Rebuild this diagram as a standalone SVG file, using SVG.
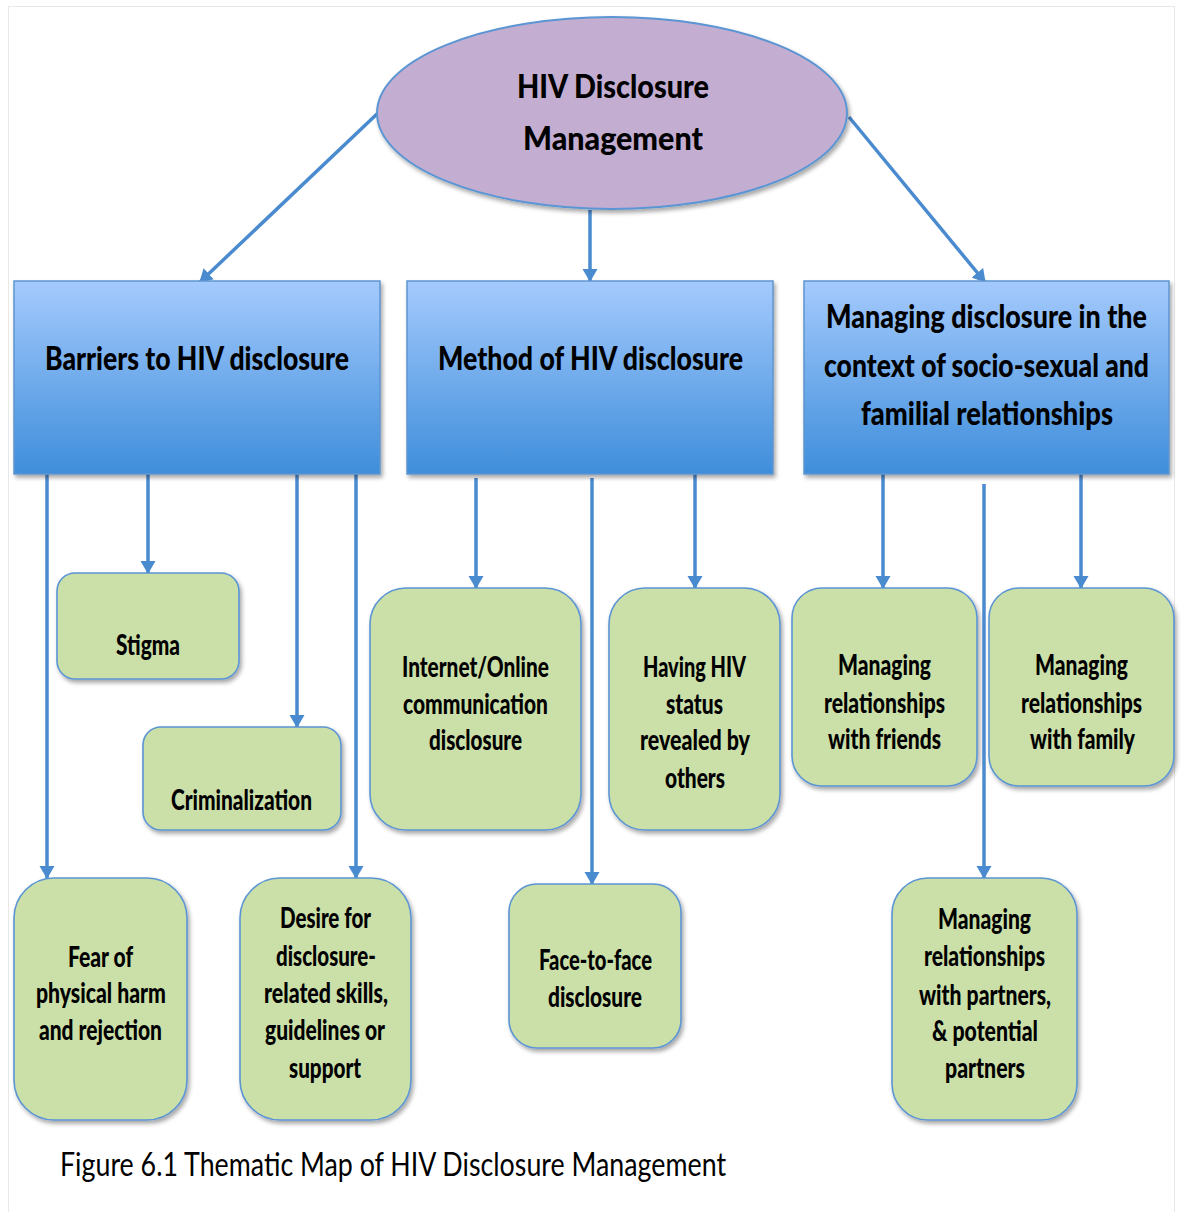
<svg xmlns="http://www.w3.org/2000/svg" width="1183" height="1212" viewBox="0 0 1183 1212">
  <defs>
    <linearGradient id="hdrFill" x1="0" y1="0" x2="0" y2="1">
      <stop offset="0" stop-color="#a4cafd"/>
      <stop offset="1" stop-color="#3f8edb"/>
    </linearGradient>
    <filter id="shadow" x="-10%" y="-10%" width="125%" height="130%">
      <feDropShadow dx="2" dy="3" stdDeviation="2" flood-color="#000" flood-opacity="0.35"/>
    </filter>
    <marker id="arrow" markerUnits="userSpaceOnUse" markerWidth="16" markerHeight="16" refX="12" refY="7.5" orient="auto">
      <path d="M0,0 L13,7.5 L0,15 Z" fill="#4a8bd0"/>
    </marker>
    <style>
      .hdr { fill: url(#hdrFill); stroke: #5f95cf; stroke-width: 1.5; filter: url(#shadow); }
      .leaf { fill: #cbdfa8; stroke: #5b95d3; stroke-width: 1.6; filter: url(#shadow); }
      .root { fill: #c3aed2; stroke: #5b95d3; stroke-width: 2; filter: url(#shadow); }
      .edge { stroke: #4a8bd0; stroke-width: 3.5; fill: none; marker-end: url(#arrow); }
      text { font-family: Lato, "Open Sans", "Liberation Sans", sans-serif; fill: #000; text-anchor: start; }
      .t-big { font-size: 33px; font-weight: 900; }
      .t-leaf { font-size: 28px; font-weight: 900; }
      .t-cap { font-size: 33px; font-weight: normal; }
    </style>
  </defs>

  <!-- page frame -->
  <rect x="8.5" y="6.5" width="1166" height="1230" fill="#ffffff" stroke="#e8e8e8" stroke-width="1"/>

  <!-- connectors -->
  <g id="connectors">
    <line class="edge" x1="378" y1="113" x2="200" y2="282"/>
    <line class="edge" x1="590" y1="210" x2="590" y2="281"/>
    <line class="edge" x1="849" y1="117" x2="985" y2="282"/>

    <line class="edge" x1="47" y1="474" x2="47" y2="878"/>
    <line class="edge" x1="148" y1="474" x2="148" y2="573"/>
    <line class="edge" x1="297" y1="474" x2="297" y2="727"/>
    <line class="edge" x1="356" y1="474" x2="356" y2="878"/>

    <line class="edge" x1="476" y1="478" x2="476" y2="588"/>
    <line class="edge" x1="592" y1="478" x2="592" y2="884"/>
    <line class="edge" x1="695" y1="474" x2="695" y2="588"/>

    <line class="edge" x1="883" y1="474" x2="883" y2="588"/>
    <line class="edge" x1="984" y1="484" x2="984" y2="878"/>
    <line class="edge" x1="1081" y1="474" x2="1081" y2="588"/>
  </g>

  <!-- root -->
  <g id="root">
    <ellipse class="root" cx="612" cy="113" rx="235" ry="96"/>
    <text class="t-big" x="517" y="98" textLength="192" lengthAdjust="spacingAndGlyphs">HIV Disclosure</text>
    <text class="t-big" x="523" y="150" textLength="180" lengthAdjust="spacingAndGlyphs">Management</text>
  </g>

  <!-- themes -->
  <g id="barriers">
    <rect class="hdr" x="14" y="281" width="366" height="193"/>
    <text class="t-big" x="45" y="370" textLength="304" lengthAdjust="spacingAndGlyphs">Barriers to HIV disclosure</text>
  </g>
  <g id="method">
    <rect class="hdr" x="407" y="281" width="366" height="193"/>
    <text class="t-big" x="438" y="370" textLength="305" lengthAdjust="spacingAndGlyphs">Method of HIV disclosure</text>
  </g>
  <g id="relationships">
    <rect class="hdr" x="804" y="281" width="365" height="193"/>
    <text class="t-big" x="826" y="328" textLength="321" lengthAdjust="spacingAndGlyphs">Managing disclosure in the</text>
    <text class="t-big" x="824" y="377" textLength="325" lengthAdjust="spacingAndGlyphs">context of socio-sexual and</text>
    <text class="t-big" x="861" y="425" textLength="252" lengthAdjust="spacingAndGlyphs">familial relationships</text>
  </g>

  <!-- sub-themes: barriers -->
  <g id="stigma">
    <rect class="leaf" x="57" y="573" width="182" height="106" rx="18"/>
    <text class="t-leaf" x="116" y="655" textLength="64" lengthAdjust="spacingAndGlyphs">Stigma</text>
  </g>
  <g id="criminalization">
    <rect class="leaf" x="143" y="727" width="198" height="103" rx="18"/>
    <text class="t-leaf" x="171" y="810" textLength="141" lengthAdjust="spacingAndGlyphs">Criminalization</text>
  </g>
  <g id="fear">
    <rect class="leaf" x="14" y="878" width="173" height="242" rx="40"/>
    <text class="t-leaf" x="68" y="967" textLength="65" lengthAdjust="spacingAndGlyphs">Fear of</text>
    <text class="t-leaf" x="36" y="1003" textLength="130" lengthAdjust="spacingAndGlyphs">physical harm</text>
    <text class="t-leaf" x="39" y="1040" textLength="123" lengthAdjust="spacingAndGlyphs">and rejection</text>
  </g>
  <g id="desire">
    <rect class="leaf" x="240" y="878" width="171" height="242" rx="40"/>
    <text class="t-leaf" x="280" y="928" textLength="91" lengthAdjust="spacingAndGlyphs">Desire for</text>
    <text class="t-leaf" x="276" y="966" textLength="100" lengthAdjust="spacingAndGlyphs">disclosure-</text>
    <text class="t-leaf" x="264" y="1003" textLength="124" lengthAdjust="spacingAndGlyphs">related skills,</text>
    <text class="t-leaf" x="265" y="1040" textLength="120" lengthAdjust="spacingAndGlyphs">guidelines or</text>
    <text class="t-leaf" x="289" y="1078" textLength="72" lengthAdjust="spacingAndGlyphs">support</text>
  </g>

  <!-- sub-themes: method -->
  <g id="internet">
    <rect class="leaf" x="370" y="588" width="211" height="242" rx="36"/>
    <text class="t-leaf" x="402" y="677" textLength="147" lengthAdjust="spacingAndGlyphs">Internet/Online</text>
    <text class="t-leaf" x="403" y="714" textLength="145" lengthAdjust="spacingAndGlyphs">communication</text>
    <text class="t-leaf" x="429" y="750" textLength="93" lengthAdjust="spacingAndGlyphs">disclosure</text>
  </g>
  <g id="revealed">
    <rect class="leaf" x="609" y="588" width="171" height="242" rx="36"/>
    <text class="t-leaf" x="643" y="677" textLength="103" lengthAdjust="spacingAndGlyphs">Having HIV</text>
    <text class="t-leaf" x="666" y="714" textLength="57" lengthAdjust="spacingAndGlyphs">status</text>
    <text class="t-leaf" x="640" y="750" textLength="110" lengthAdjust="spacingAndGlyphs">revealed by</text>
    <text class="t-leaf" x="665" y="788" textLength="60" lengthAdjust="spacingAndGlyphs">others</text>
  </g>
  <g id="face">
    <rect class="leaf" x="509" y="884" width="172" height="164" rx="28"/>
    <text class="t-leaf" x="539" y="970" textLength="113" lengthAdjust="spacingAndGlyphs">Face-to-face</text>
    <text class="t-leaf" x="548" y="1007" textLength="94" lengthAdjust="spacingAndGlyphs">disclosure</text>
  </g>

  <!-- sub-themes: relationships -->
  <g id="friends">
    <rect class="leaf" x="792" y="588" width="185" height="198" rx="30"/>
    <text class="t-leaf" x="838" y="675" textLength="93" lengthAdjust="spacingAndGlyphs">Managing</text>
    <text class="t-leaf" x="824" y="713" textLength="121" lengthAdjust="spacingAndGlyphs">relationships</text>
    <text class="t-leaf" x="828" y="749" textLength="113" lengthAdjust="spacingAndGlyphs">with friends</text>
  </g>
  <g id="family">
    <rect class="leaf" x="989" y="588" width="185" height="198" rx="30"/>
    <text class="t-leaf" x="1035" y="675" textLength="93" lengthAdjust="spacingAndGlyphs">Managing</text>
    <text class="t-leaf" x="1021" y="713" textLength="121" lengthAdjust="spacingAndGlyphs">relationships</text>
    <text class="t-leaf" x="1030" y="749" textLength="105" lengthAdjust="spacingAndGlyphs">with family</text>
  </g>
  <g id="partners">
    <rect class="leaf" x="892" y="878" width="185" height="242" rx="36"/>
    <text class="t-leaf" x="938" y="929" textLength="93" lengthAdjust="spacingAndGlyphs">Managing</text>
    <text class="t-leaf" x="924" y="966" textLength="121" lengthAdjust="spacingAndGlyphs">relationships</text>
    <text class="t-leaf" x="919" y="1005" textLength="132" lengthAdjust="spacingAndGlyphs">with partners,</text>
    <text class="t-leaf" x="932" y="1041" textLength="106" lengthAdjust="spacingAndGlyphs">&amp; potential</text>
    <text class="t-leaf" x="945" y="1078" textLength="80" lengthAdjust="spacingAndGlyphs">partners</text>
  </g>

  <!-- caption -->
  <text class="t-cap" x="60" y="1176" textLength="666" lengthAdjust="spacingAndGlyphs">Figure 6.1 Thematic Map of HIV Disclosure Management</text>
</svg>
